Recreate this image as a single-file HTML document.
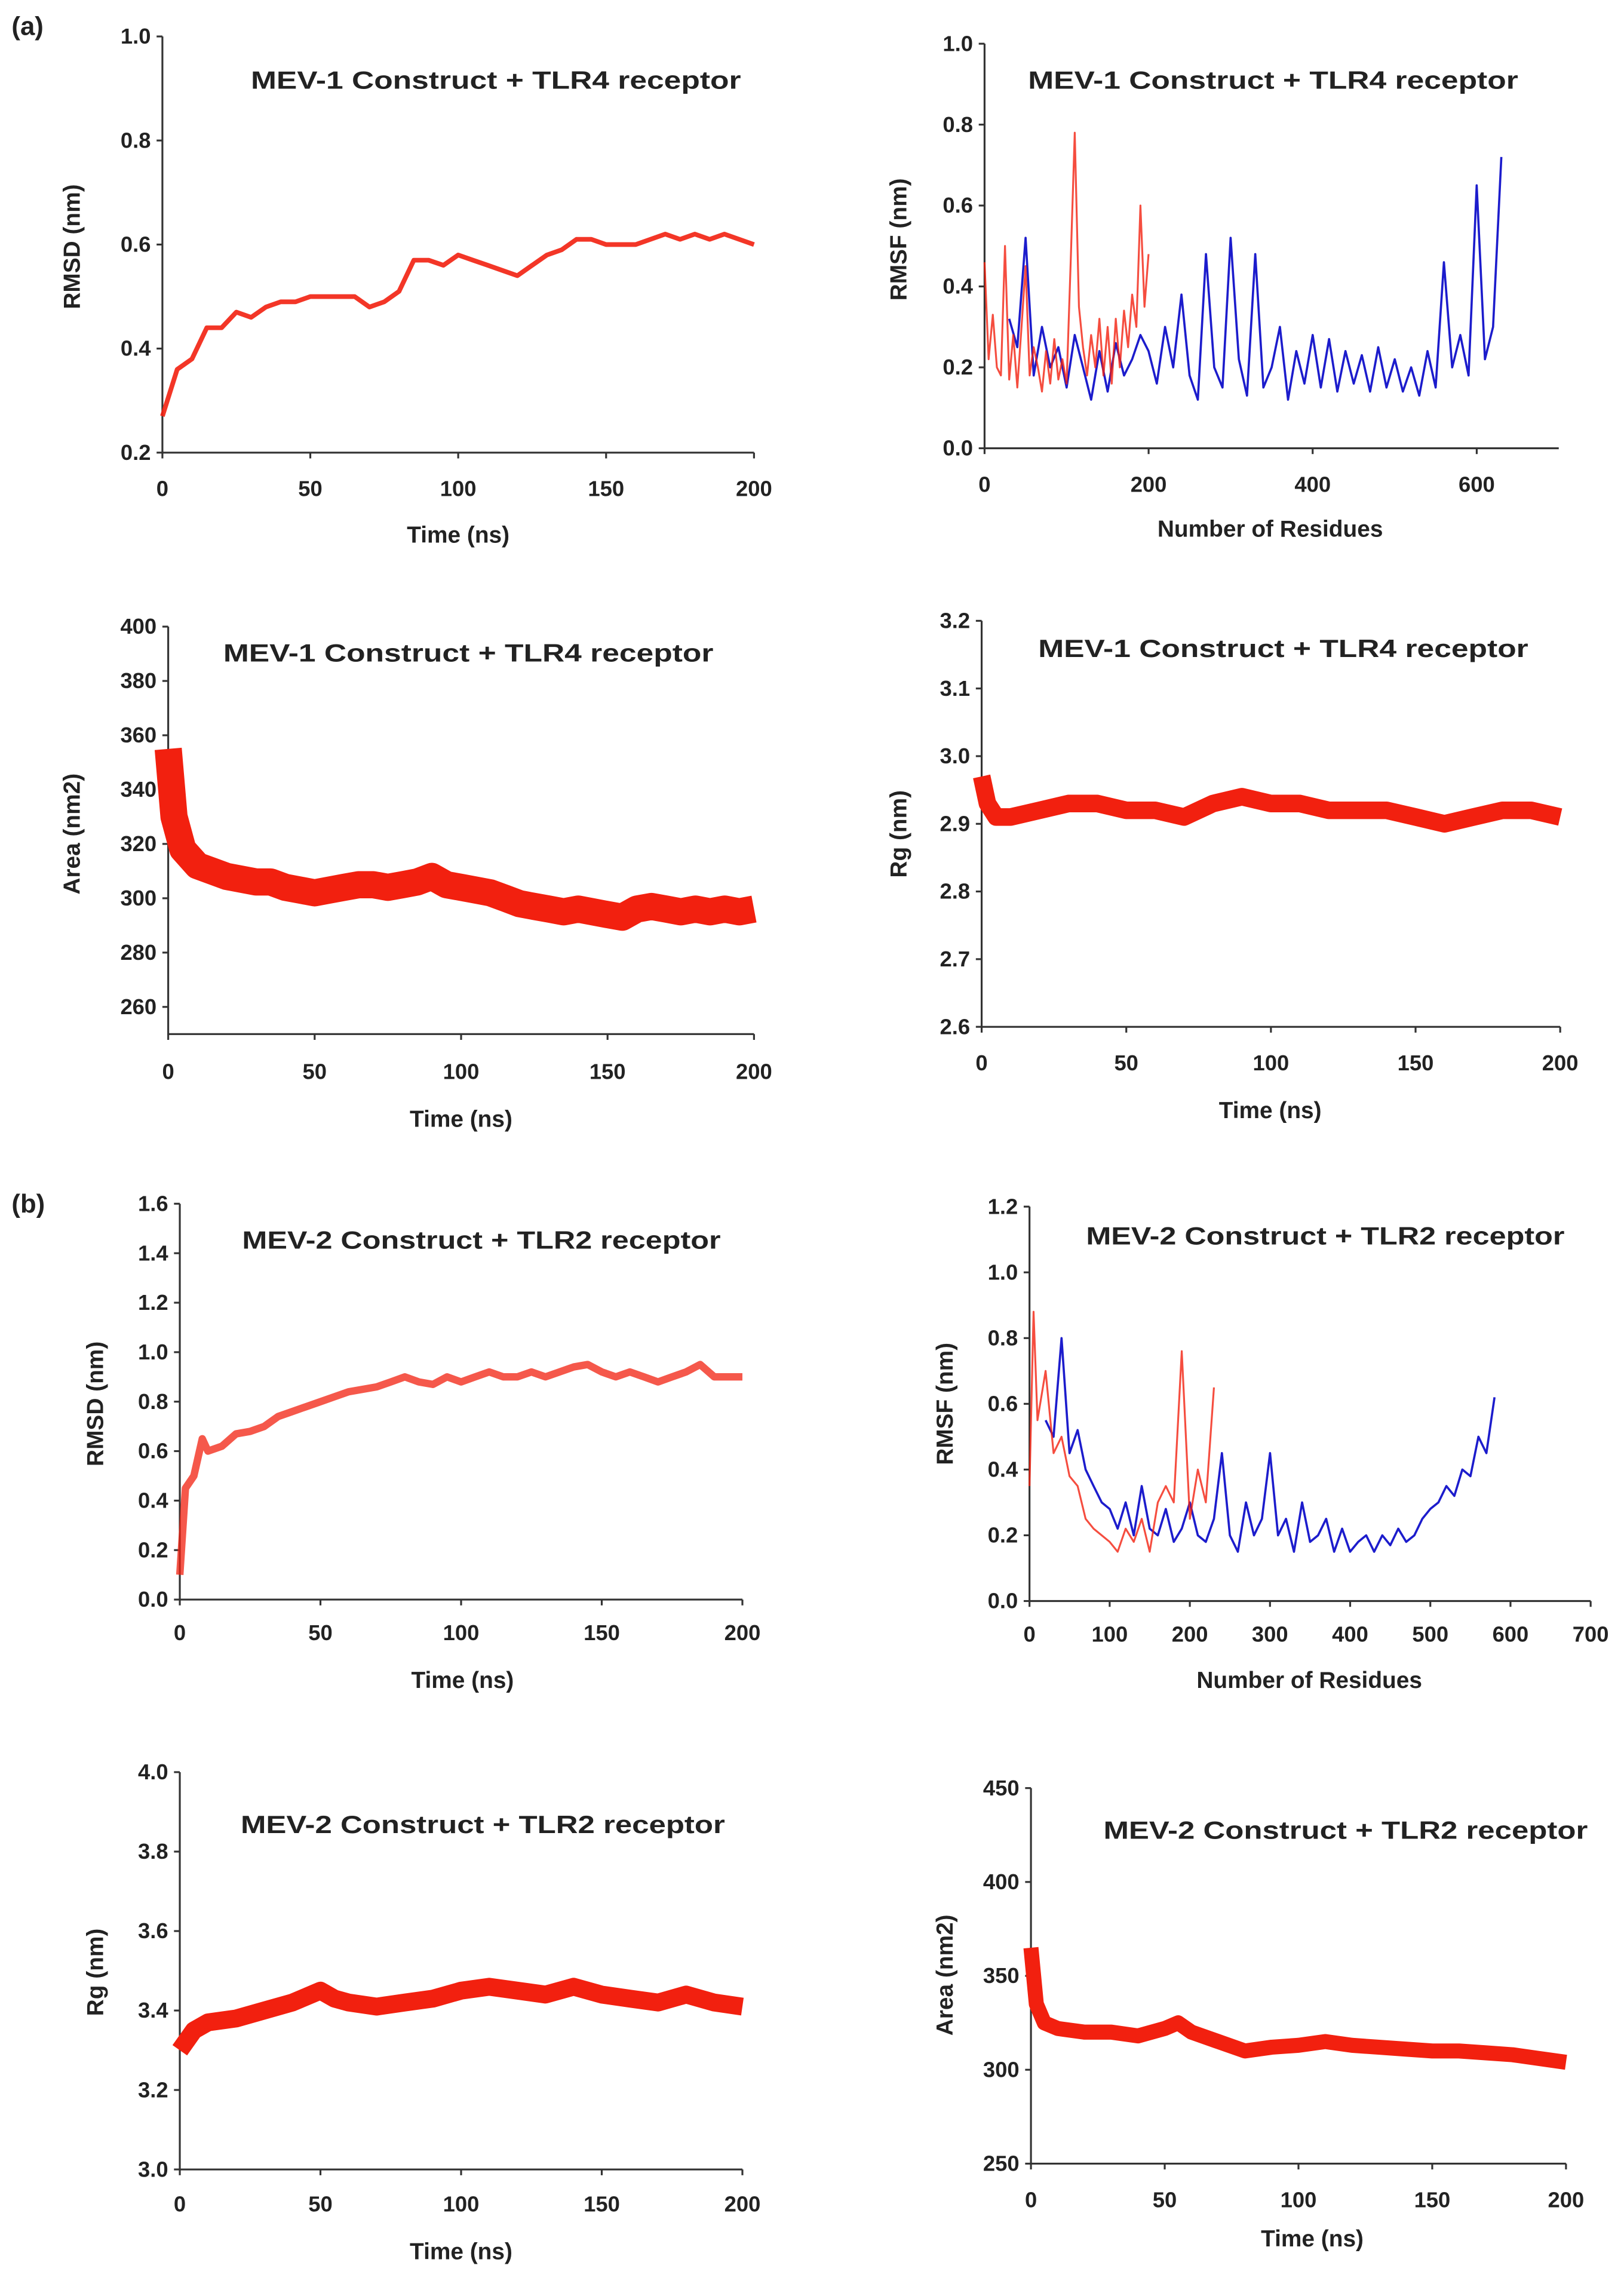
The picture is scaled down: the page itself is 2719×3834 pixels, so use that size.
<!DOCTYPE html>
<html><head><meta charset="utf-8"><style>
html,body{margin:0;padding:0;background:#fff}
svg{display:block}
text{font-family:"Liberation Sans",Arial,sans-serif;font-weight:bold;fill:#222}
</style></head><body>
<svg id="fig" width="2719" height="3834" viewBox="0 0 1120 1579" xmlns="http://www.w3.org/2000/svg">
<text x="8" y="24" font-size="18">(a)</text>
<text x="8" y="836" font-size="18">(b)</text>
</svg>
<script>
// ---- data ----
const a1T=[0,5,10,15,20,25,30,35,40,45,50,55,60,65,70,75,80,85,90,95,100,105,110,115,120,125,130,135,140,145,150,155,160,165,170,175,180,185,190,195,200];
const a1V=[0.27,0.36,0.38,0.44,0.44,0.47,0.46,0.48,0.49,0.49,0.50,0.50,0.50,0.50,0.48,0.49,0.51,0.57,0.57,0.56,0.58,0.57,0.56,0.55,0.54,0.56,0.58,0.59,0.61,0.61,0.60,0.60,0.60,0.61,0.62,0.61,0.62,0.61,0.62,0.61,0.60];
const a2BlueR=[30,40,50,60,70,80,90,100,110,120,130,140,150,160,170,180,190,200,210,220,230,240,250,260,270,280,290,300,310,320,330,340,350,360,370,380,390,400,410,420,430,440,450,460,470,480,490,500,510,520,530,540,550,560,570,580,590,600,610,620,630];
const a2BlueV=[0.32,0.25,0.52,0.18,0.30,0.20,0.25,0.15,0.28,0.20,0.12,0.24,0.14,0.26,0.18,0.22,0.28,0.24,0.16,0.30,0.20,0.38,0.18,0.12,0.48,0.20,0.15,0.52,0.22,0.13,0.48,0.15,0.20,0.30,0.12,0.24,0.16,0.28,0.15,0.27,0.14,0.24,0.16,0.23,0.14,0.25,0.15,0.22,0.14,0.20,0.13,0.24,0.15,0.46,0.20,0.28,0.18,0.65,0.22,0.30,0.72];
const a2RedR=[0,5,10,15,20,25,30,35,40,45,50,55,60,65,70,75,80,85,90,95,100,105,110,115,120,125,130,135,140,145,150,155,160,165,170,175,180,185,190,195,200];
const a2RedV=[0.46,0.22,0.33,0.20,0.18,0.50,0.17,0.28,0.15,0.30,0.45,0.18,0.25,0.20,0.14,0.24,0.16,0.27,0.17,0.22,0.16,0.46,0.78,0.35,0.25,0.18,0.28,0.20,0.32,0.18,0.30,0.16,0.32,0.20,0.34,0.25,0.38,0.30,0.60,0.35,0.48];
const a3T=[0,2,5,10,15,20,25,30,35,40,45,50,55,60,65,70,75,80,85,90,95,100,105,110,115,120,125,130,135,140,145,150,155,160,165,170,175,180,185,190,195,200];
const a3V=[355,330,318,312,310,308,307,306,306,304,303,302,303,304,305,305,304,305,306,308,305,304,303,302,300,298,297,296,295,296,295,294,293,296,297,296,295,296,295,296,295,296];
const a4T=[0,2,5,10,20,30,40,50,60,70,80,90,100,110,120,130,140,150,160,170,180,190,200];
const a4V=[2.97,2.93,2.91,2.91,2.92,2.93,2.93,2.92,2.92,2.91,2.93,2.94,2.93,2.93,2.92,2.92,2.92,2.91,2.90,2.91,2.92,2.92,2.91];
const b1T=[0,2,5,8,10,15,20,25,30,35,40,45,50,55,60,65,70,75,80,85,90,95,100,105,110,115,120,125,130,135,140,145,150,155,160,165,170,175,180,185,190,195,200];
const b1V=[0.1,0.45,0.5,0.65,0.6,0.62,0.67,0.68,0.7,0.74,0.76,0.78,0.8,0.82,0.84,0.85,0.86,0.88,0.9,0.88,0.87,0.9,0.88,0.9,0.92,0.9,0.9,0.92,0.9,0.92,0.94,0.95,0.92,0.9,0.92,0.9,0.88,0.9,0.92,0.95,0.9,0.9,0.9];
const b2RedR=[0,5,10,20,30,40,50,60,70,80,90,100,110,120,130,140,150,160,170,180,190,200,210,220,230];
const b2RedV=[0.35,0.88,0.55,0.7,0.45,0.5,0.38,0.35,0.25,0.22,0.2,0.18,0.15,0.22,0.18,0.25,0.15,0.3,0.35,0.3,0.76,0.25,0.4,0.3,0.65];
const b2BlueR=[20,30,40,50,60,70,80,90,100,110,120,130,140,150,160,170,180,190,200,210,220,230,240,250,260,270,280,290,300,310,320,330,340,350,360,370,380,390,400,410,420,430,440,450,460,470,480,490,500,510,520,530,540,550,560,570,580];
const b2BlueV=[0.55,0.5,0.8,0.45,0.52,0.4,0.35,0.3,0.28,0.22,0.3,0.2,0.35,0.22,0.2,0.28,0.18,0.22,0.3,0.2,0.18,0.25,0.45,0.2,0.15,0.3,0.2,0.25,0.45,0.2,0.25,0.15,0.3,0.18,0.2,0.25,0.15,0.22,0.15,0.18,0.2,0.15,0.2,0.17,0.22,0.18,0.2,0.25,0.28,0.3,0.35,0.32,0.4,0.38,0.5,0.45,0.62];
const b3T=[0,5,10,20,30,40,50,55,60,70,80,90,100,110,120,130,140,150,160,170,180,190,200];
const b3V=[3.3,3.35,3.37,3.38,3.4,3.42,3.45,3.43,3.42,3.41,3.42,3.43,3.45,3.46,3.45,3.44,3.46,3.44,3.43,3.42,3.44,3.42,3.41];
const b4T=[0,2,5,10,20,30,40,50,55,60,70,80,90,100,110,120,130,140,150,160,170,180,190,200];
const b4V=[365,335,325,322,320,320,318,322,325,320,315,310,312,313,315,313,312,311,310,310,309,308,306,304];

const RED="#f2200f",BLUE="#1c1ccc";
const svg=document.getElementById('fig');
const NS="http://www.w3.org/2000/svg";
function mk(tag,attrs){const e=document.createElementNS(NS,tag);for(const k in attrs)e.setAttribute(k,attrs[k]);svg.appendChild(e);return e;}

function panel(p){
  const sx=v=>p.x0+(v-p.xmin)/(p.xmax-p.xmin)*(p.x1-p.x0);
  const sy=v=>p.y0-(v-p.ymin)/(p.ymax-p.ymin)*(p.y0-p.y1);
  const ax=mk('path',{d:`M${p.x0} ${p.y1}V${p.y0}H${p.x1}`,stroke:'#333',fill:'none','stroke-width':1.3});
  
  
  p.yt.forEach(v=>{
    mk('line',{x1:p.x0-4,x2:p.x0,y1:sy(v),y2:sy(v),stroke:'#333','stroke-width':1.3});
    const t=mk('text',{x:p.x0-8,y:sy(v)+5,'font-size':15,'text-anchor':'end'});t.textContent=p.yfmt(v);
    
    
  });
  p.xt.forEach(v=>{
    mk('line',{x1:sx(v),x2:sx(v),y1:p.y0,y2:p.y0+4,stroke:'#333','stroke-width':1.3});
    const t=mk('text',{x:sx(v),y:p.xly,'font-size':15,'text-anchor':'middle'});t.textContent=v;
    
    
  });
  p.series.forEach(s=>{
    const d=s.x.map((v,i)=>(i?'L':'M')+sx(v).toFixed(1)+' '+sy(s.y[i]).toFixed(1)).join('');
    const bw=s.band?Math.abs(sy(0)-sy(s.band)):s.w;
    const e=mk('path',{d:d,stroke:s.c,fill:'none','stroke-width':bw,'stroke-linejoin':'round','stroke-opacity':s.o||1});
    
    
  });
  const tt=mk('text',{x:p.tx,y:p.ty,'font-size':17,'text-anchor':'middle',textLength:p.tl,lengthAdjust:'spacingAndGlyphs'});tt.textContent=p.title;
  
  
  const xl=mk('text',{x:p.xlx,y:p.xlyy,'font-size':16,'text-anchor':'middle'});xl.textContent=p.xlab;
  
  
  const yl=mk('text',{x:0,y:0,'font-size':16,'text-anchor':'middle',transform:`translate(${p.ylx},${p.yly}) rotate(-90)`});yl.textContent=p.ylab;
  
  
}
const f1=v=>v.toFixed(1), f0=v=>String(v);
const tA="MEV-1 Construct + TLR4 receptor", tB="MEV-2 Construct  + TLR2 receptor";
panel({id:'a-rmsd',x0:112,x1:520,y0:312,y1:25,xmin:0,xmax:200,ymin:0.2,ymax:1.0,yt:[0.2,0.4,0.6,0.8,1.0],yfmt:f1,xt:[0,50,100,150,200],xly:342,
  series:[{n:'rmsd-line',x:a1T,y:a1V,c:RED,band:0.009,o:0.9}],title:tA,tx:342,ty:61,tl:338,xlab:'Time (ns)',xlx:316,xlyy:374,ylab:'RMSD (nm)',ylx:55,yly:170});
panel({id:'a-rmsf',x0:679,x1:1075,y0:309,y1:30,xmin:0,xmax:700,ymin:0,ymax:1.0,yt:[0,0.2,0.4,0.6,0.8,1.0],yfmt:f1,xt:[0,200,400,600],xly:339,
  series:[{n:'blue-line',x:a2BlueR,y:a2BlueV,c:BLUE,w:1.5},{n:'red-line',x:a2RedR,y:a2RedV,c:RED,w:1.3,o:0.8}],title:tA,tx:878,ty:61,tl:338,xlab:'Number of Residues',xlx:876,xlyy:370,ylab:'RMSF (nm)',ylx:625,yly:165});
panel({id:'a-area',x0:116,x1:520,y0:713,y1:432,xmin:0,xmax:200,ymin:250,ymax:400,yt:[260,280,300,320,340,360,380,400],yfmt:f0,xt:[0,50,100,150,200],xly:744,
  series:[{n:'area-line',x:a3T,y:a3V,c:RED,band:10}],title:tA,tx:323,ty:456,tl:338,xlab:'Time (ns)',xlx:318,xlyy:777,ylab:'Area (nm2)',ylx:55,yly:575});
panel({id:'a-rg',x0:677,x1:1076,y0:708,y1:428,xmin:0,xmax:200,ymin:2.6,ymax:3.2,yt:[2.6,2.7,2.8,2.9,3.0,3.1,3.2],yfmt:f1,xt:[0,50,100,150,200],xly:738,
  series:[{n:'rg-line',x:a4T,y:a4V,c:RED,band:0.026}],title:tA,tx:885,ty:453,tl:338,xlab:'Time (ns)',xlx:876,xlyy:771,ylab:'Rg (nm)',ylx:625,yly:575});
panel({id:'b-rmsd',x0:124,x1:512,y0:1103,y1:830,xmin:0,xmax:200,ymin:0,ymax:1.6,yt:[0,0.2,0.4,0.6,0.8,1.0,1.2,1.4,1.6],yfmt:f1,xt:[0,50,100,150,200],xly:1131,
  series:[{n:'rmsd-line',x:b1T,y:b1V,c:RED,band:0.03,o:0.75}],title:tB,tx:332,ty:861,tl:330,xlab:'Time (ns)',xlx:319,xlyy:1164,ylab:'RMSD (nm)',ylx:71,yly:968});
panel({id:'b-rmsf',x0:710,x1:1097,y0:1104,y1:832,xmin:0,xmax:700,ymin:0,ymax:1.2,yt:[0,0.2,0.4,0.6,0.8,1.0,1.2],yfmt:f1,xt:[0,100,200,300,400,500,600,700],xly:1132,
  series:[{n:'blue-line',x:b2BlueR,y:b2BlueV,c:BLUE,w:1.5},{n:'red-line',x:b2RedR,y:b2RedV,c:RED,w:1.3,o:0.8}],title:tB,tx:914,ty:858,tl:330,xlab:'Number of Residues',xlx:903,xlyy:1164,ylab:'RMSF (nm)',ylx:657,yly:968});
panel({id:'b-rg',x0:124,x1:512,y0:1496,y1:1222,xmin:0,xmax:200,ymin:3.0,ymax:4.0,yt:[3.0,3.2,3.4,3.6,3.8,4.0],yfmt:f1,xt:[0,50,100,150,200],xly:1525,
  series:[{n:'rg-line',x:b3T,y:b3V,c:RED,band:0.045}],title:tB,tx:333,ty:1264,tl:334,xlab:'Time (ns)',xlx:318,xlyy:1558,ylab:'Rg (nm)',ylx:71,yly:1360});
panel({id:'b-area',x0:711,x1:1080,y0:1492,y1:1233,xmin:0,xmax:200,ymin:250,ymax:450,yt:[250,300,350,400,450],yfmt:f0,xt:[0,50,100,150,200],xly:1522,
  series:[{n:'area-line',x:b4T,y:b4V,c:RED,band:8}],title:tB,tx:928,ty:1268,tl:334,xlab:'Time (ns)',xlx:905,xlyy:1549,ylab:'Area (nm2)',ylx:657,yly:1362});
</script>
</body></html>
